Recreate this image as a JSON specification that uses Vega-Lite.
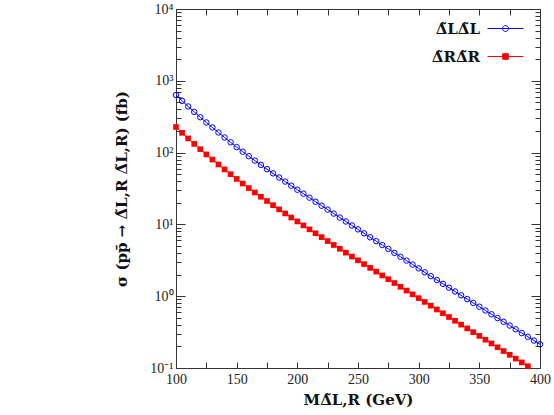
{
  "$schema": "https://vega.github.io/schema/vega-lite/v6.json",
  "width": 364,
  "height": 359,
  "autosize": {"type": "none"},
  "padding": {"left": 176, "top": 9, "right": 14, "bottom": 47},
  "background": "white",
  "config": {
    "view": {"stroke": "#333333", "strokeWidth": 1},
    "font": "Liberation Serif",
    "axis": {"domain": false, "grid": false, "labelFlush": false, "tickColor": "#333333", "tickWidth": 1, "labelFont": "Liberation Serif", "labelFontSize": 14, "labelColor": "#222222", "titleFont": "DejaVu Serif", "titleFontWeight": "bold", "titleFontSize": 15, "titleColor": "#111111"}
  },
  "data": {"values": [
    {"M":100,"sigma":634,"s":"LL"},{"M":105,"sigma":526,"s":"LL"},{"M":110,"sigma":439,"s":"LL"},{"M":115,"sigma":369,"s":"LL"},{"M":120,"sigma":311,"s":"LL"},{"M":125,"sigma":263,"s":"LL"},{"M":130,"sigma":224,"s":"LL"},{"M":135,"sigma":190.5,"s":"LL"},{"M":140,"sigma":162.6,"s":"LL"},{"M":145,"sigma":139.2,"s":"LL"},{"M":150,"sigma":119.3,"s":"LL"},{"M":155,"sigma":102.9,"s":"LL"},{"M":160,"sigma":89.1,"s":"LL"},{"M":165,"sigma":77.4,"s":"LL"},{"M":170,"sigma":67.4,"s":"LL"},{"M":175,"sigma":58.8,"s":"LL"},{"M":180,"sigma":51.4,"s":"LL"},{"M":185,"sigma":45.0,"s":"LL"},{"M":190,"sigma":39.5,"s":"LL"},{"M":195,"sigma":34.6,"s":"LL"},{"M":200,"sigma":30.4,"s":"LL"},{"M":205,"sigma":26.8,"s":"LL"},{"M":210,"sigma":23.6,"s":"LL"},{"M":215,"sigma":20.7,"s":"LL"},{"M":220,"sigma":18.2,"s":"LL"},{"M":225,"sigma":16.06,"s":"LL"},{"M":230,"sigma":14.14,"s":"LL"},{"M":235,"sigma":12.45,"s":"LL"},{"M":240,"sigma":10.97,"s":"LL"},{"M":245,"sigma":9.66,"s":"LL"},{"M":250,"sigma":8.52,"s":"LL"},{"M":255,"sigma":7.51,"s":"LL"},{"M":260,"sigma":6.62,"s":"LL"},{"M":265,"sigma":5.84,"s":"LL"},{"M":270,"sigma":5.15,"s":"LL"},{"M":275,"sigma":4.55,"s":"LL"},{"M":280,"sigma":4.01,"s":"LL"},{"M":285,"sigma":3.54,"s":"LL"},{"M":290,"sigma":3.13,"s":"LL"},{"M":295,"sigma":2.76,"s":"LL"},{"M":300,"sigma":2.44,"s":"LL"},{"M":305,"sigma":2.15,"s":"LL"},{"M":310,"sigma":1.904,"s":"LL"},{"M":315,"sigma":1.683,"s":"LL"},{"M":320,"sigma":1.487,"s":"LL"},{"M":325,"sigma":1.315,"s":"LL"},{"M":330,"sigma":1.163,"s":"LL"},{"M":335,"sigma":1.029,"s":"LL"},{"M":340,"sigma":0.911,"s":"LL"},{"M":345,"sigma":0.806,"s":"LL"},{"M":350,"sigma":0.714,"s":"LL"},{"M":355,"sigma":0.632,"s":"LL"},{"M":360,"sigma":0.56,"s":"LL"},{"M":365,"sigma":0.496,"s":"LL"},{"M":370,"sigma":0.44,"s":"LL"},{"M":375,"sigma":0.39,"s":"LL"},{"M":380,"sigma":0.346,"s":"LL"},{"M":385,"sigma":0.3065,"s":"LL"},{"M":390,"sigma":0.272,"s":"LL"},{"M":395,"sigma":0.241,"s":"LL"},{"M":400,"sigma":0.214,"s":"LL"},
    {"M":100,"sigma":227.3,"s":"RR"},{"M":105,"sigma":188.7,"s":"RR"},{"M":110,"sigma":157.5,"s":"RR"},{"M":115,"sigma":132.2,"s":"RR"},{"M":120,"sigma":111.5,"s":"RR"},{"M":125,"sigma":94.4,"s":"RR"},{"M":130,"sigma":80.1,"s":"RR"},{"M":135,"sigma":68.3,"s":"RR"},{"M":140,"sigma":58.3,"s":"RR"},{"M":145,"sigma":50.0,"s":"RR"},{"M":150,"sigma":42.95,"s":"RR"},{"M":155,"sigma":37.06,"s":"RR"},{"M":160,"sigma":32.08,"s":"RR"},{"M":165,"sigma":27.86,"s":"RR"},{"M":170,"sigma":24.27,"s":"RR"},{"M":175,"sigma":21.18,"s":"RR"},{"M":180,"sigma":18.51,"s":"RR"},{"M":185,"sigma":16.2,"s":"RR"},{"M":190,"sigma":14.21,"s":"RR"},{"M":195,"sigma":12.48,"s":"RR"},{"M":200,"sigma":10.99,"s":"RR"},{"M":205,"sigma":9.69,"s":"RR"},{"M":210,"sigma":8.54,"s":"RR"},{"M":215,"sigma":7.53,"s":"RR"},{"M":220,"sigma":6.65,"s":"RR"},{"M":225,"sigma":5.86,"s":"RR"},{"M":230,"sigma":5.17,"s":"RR"},{"M":235,"sigma":4.57,"s":"RR"},{"M":240,"sigma":4.04,"s":"RR"},{"M":245,"sigma":3.57,"s":"RR"},{"M":250,"sigma":3.16,"s":"RR"},{"M":255,"sigma":2.8,"s":"RR"},{"M":260,"sigma":2.48,"s":"RR"},{"M":265,"sigma":2.2,"s":"RR"},{"M":270,"sigma":1.945,"s":"RR"},{"M":275,"sigma":1.723,"s":"RR"},{"M":280,"sigma":1.526,"s":"RR"},{"M":285,"sigma":1.352,"s":"RR"},{"M":290,"sigma":1.198,"s":"RR"},{"M":295,"sigma":1.061,"s":"RR"},{"M":300,"sigma":0.94,"s":"RR"},{"M":305,"sigma":0.833,"s":"RR"},{"M":310,"sigma":0.738,"s":"RR"},{"M":315,"sigma":0.653,"s":"RR"},{"M":320,"sigma":0.579,"s":"RR"},{"M":325,"sigma":0.513,"s":"RR"},{"M":330,"sigma":0.454,"s":"RR"},{"M":335,"sigma":0.402,"s":"RR"},{"M":340,"sigma":0.356,"s":"RR"},{"M":345,"sigma":0.316,"s":"RR"},{"M":350,"sigma":0.28,"s":"RR"},{"M":355,"sigma":0.248,"s":"RR"},{"M":360,"sigma":0.2195,"s":"RR"},{"M":365,"sigma":0.1944,"s":"RR"},{"M":370,"sigma":0.1722,"s":"RR"},{"M":375,"sigma":0.1526,"s":"RR"},{"M":380,"sigma":0.1351,"s":"RR"},{"M":385,"sigma":0.1197,"s":"RR"},{"M":390,"sigma":0.106,"s":"RR"}
  ]},
  "encoding": {
    "x": {"field": "M", "type": "quantitative", "scale": {"domain": [100, 400], "nice": false, "zero": false}},
    "y": {"field": "sigma", "type": "quantitative", "scale": {"type": "log", "domain": [0.1, 10000], "nice": false}}
  },
  "layer": [
    {
      "mark": {"type": "line", "strokeWidth": 1, "clip": true},
      "encoding": {
        "x": {"field": "M", "type": "quantitative", "title": "MΔ̃L,R (GeV)",
          "axis": {"orient": "bottom", "values": [100,125,150,175,200,225,250,275,300,325,350,375,400], "labelExpr": "datum.value % 50 == 0 ? datum.label : ''", "tickSize": -6, "labelPadding": 10, "titlePadding": 6}},
        "y": {"field": "sigma", "type": "quantitative", "title": "σ (pp̄ → Δ̃L,R Δ̃L,R) (fb)",
          "axis": {"orient": "left", "values": [0.1,0.2,0.3,0.4,0.5,0.6,0.7,0.8,0.9,1,2,3,4,5,6,7,8,9,10,20,30,40,50,60,70,80,90,100,200,300,400,500,600,700,800,900,1000,2000,3000,4000,5000,6000,7000,8000,9000,10000],
            "labelExpr": "datum.value == 10000 ? '10⁴' : datum.value == 1000 ? '10³' : datum.value == 100 ? '10²' : datum.value == 10 ? '10¹' : datum.value == 1 ? '10⁰' : datum.value == 0.1 ? '10⁻¹' : ''",
            "tickSize": {"condition": {"test": "indexof([0.1,1,10,100,1000,10000], datum.value) >= 0", "value": -9}, "value": -5},
            "labelPadding": 12, "titlePadding": 20}},
        "color": {"field": "s", "type": "nominal", "scale": {"domain": ["LL", "RR"], "range": ["#0000ff", "#ff0000"]},
          "legend": {"orient": "none", "legendX": 319, "legendY": 9, "title": null, "padding": 0,
            "labelExpr": "datum.value == 'LL' ? 'Δ̃LΔ̃L' : 'Δ̃RΔ̃R'",
            "labelFont": "DejaVu Serif", "labelFontWeight": "bold", "labelFontSize": 15, "labelColor": "#111111",
            "labelAlign": "right", "labelOffset": -36, "symbolSize": 400, "rowPadding": 9, "symbolStrokeWidth": 1,
            "encode": {"symbols": {"update": {
              "shape": {"signal": "datum.value === 'RR' ? 'M-1.8,0H1.8M-0.28,-0.28H0.28V0.28H-0.28Z' : 'M-1.8,0H1.8M0.3,0A0.3,0.3,0,1,1,-0.3,0A0.3,0.3,0,1,1,0.3,0'"},
              "fill": {"signal": "datum.value === 'RR' ? '#ff0000' : 'transparent'"},
              "stroke": {"signal": "datum.value === 'RR' ? '#ff0000' : '#0000ff'"},
              "strokeWidth": {"value": 1},
              "opacity": {"value": 1}
            }}}}}
      }
    },
    {
      "transform": [{"filter": "datum.s == 'LL'"}],
      "mark": {"type": "point", "shape": "circle", "filled": false, "size": 30, "strokeWidth": 1, "color": "#0000ff", "opacity": 1},
      "encoding": {"x": {"field": "M", "type": "quantitative", "axis": null}, "y": {"field": "sigma", "type": "quantitative", "axis": null}}
    },
    {
      "transform": [{"filter": "datum.s == 'RR'"}],
      "mark": {"type": "square", "size": 32, "color": "#ff0000", "opacity": 1},
      "encoding": {"x": {"field": "M", "type": "quantitative", "axis": null}, "y": {"field": "sigma", "type": "quantitative", "axis": null}}
    },
    {
      "mark": {"type": "point", "opacity": 0},
      "encoding": {
        "x": {"field": "M", "type": "quantitative", "title": null, "axis": {"orient": "top", "values": [100,125,150,175,200,225,250,275,300,325,350,375,400], "labels": false, "tickSize": -6}},
        "y": {"field": "sigma", "type": "quantitative", "title": null, "axis": {"orient": "right", "labels": false,
          "values": [0.1,0.2,0.3,0.4,0.5,0.6,0.7,0.8,0.9,1,2,3,4,5,6,7,8,9,10,20,30,40,50,60,70,80,90,100,200,300,400,500,600,700,800,900,1000,2000,3000,4000,5000,6000,7000,8000,9000,10000],
          "tickSize": {"condition": {"test": "indexof([0.1,1,10,100,1000,10000], datum.value) >= 0", "value": -9}, "value": -5}}}
      }
    }
  ],
  "resolve": {"axis": {"x": "independent", "y": "independent"}}
}
